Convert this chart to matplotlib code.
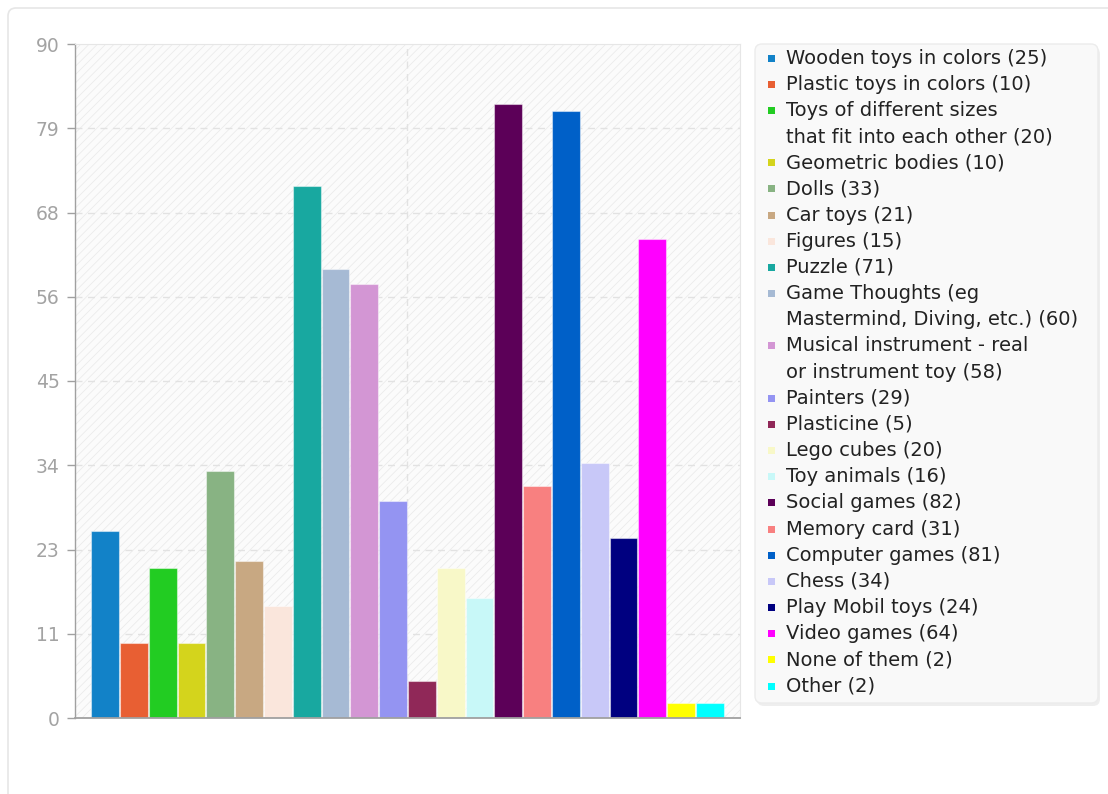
import matplotlib
matplotlib.use("Agg")
import matplotlib.pyplot as plt
from matplotlib.patches import Rectangle, FancyBboxPatch
import numpy as np

categories = [
    "Wooden toys in colors",
    "Plastic toys in colors",
    "Toys of different sizes\nthat fit into each other",
    "Geometric bodies",
    "Dolls",
    "Car toys",
    "Figures",
    "Puzzle",
    "Game Thoughts (eg\nMastermind, Diving, etc.)",
    "Musical instrument - real\nor instrument toy",
    "Painters",
    "Plasticine",
    "Lego cubes",
    "Toy animals",
    "Social games",
    "Memory card",
    "Computer games",
    "Chess",
    "Play Mobil toys",
    "Video games",
    "None of them",
    "Other",
]
values = [25, 10, 20, 10, 33, 21, 15, 71, 60, 58, 29, 5, 20, 16, 82, 31, 81, 34, 24, 64, 2, 2]
colors = [
    "#1282c8", "#e85f33", "#22cc22", "#d4d41c", "#88b383", "#c8a882",
    "#fae6dc", "#18a8a0", "#a6bad4", "#d396d4", "#9494f2", "#902858",
    "#f8f8c8", "#c8f8f8", "#5c0058", "#f88080", "#0060c8", "#c8c8f8",
    "#000080", "#ff00ff", "#ffff00", "#00ffff",
]
y_ticks = [0, 11.25, 22.5, 33.75, 45, 56.25, 67.5, 78.75, 90]
y_tick_labels = ["0", "11", "23", "34", "45", "56", "68", "79", "90"]

W, H = 1108, 794
fig = plt.figure(figsize=(W / 100, H / 100), dpi=100)
fig.patch.set_facecolor("white")

# outer card (pixel overlay)
bg = fig.add_axes([0, 0, 1, 1], zorder=0)
bg.set_xlim(0, W)
bg.set_ylim(H, 0)
bg.axis("off")
bg.add_patch(FancyBboxPatch((8, 8), 1130, 820, boxstyle="round,pad=0,rounding_size=8",
                            facecolor="white", edgecolor="#e6e6e6", linewidth=1.2))

# main axes
L, R, T, B = 75, 740, 44, 718
ax = fig.add_axes([L / W, 1 - B / H, (R - L) / W, (B - T) / H], zorder=1)
ax.set_facecolor("#fbfbfb")
plt.rcParams["hatch.linewidth"] = 0.6
ax.add_patch(Rectangle((0, 0), 1, 1, transform=ax.transAxes, facecolor="#fbfbfb",
                       edgecolor="#ebebeb", hatch="////", linewidth=0, zorder=0))

x = np.arange(len(values))
ax.bar(x, values, width=0.965, color=colors, edgecolor=(1, 1, 1, 0.45),
       linewidth=0.8, zorder=3)

n = len(values)
pad = 0.545
ax.set_xlim(-0.5 - pad, n - 0.5 + pad)
ax.set_ylim(0, 90)
ax.set_yticks(y_ticks)
ax.set_yticklabels(y_tick_labels)
ax.set_xticks([])
ax.tick_params(axis="y", colors="#a0a0a0", labelsize=13.5, length=6, width=1, pad=5,
               labelcolor="#a3a3a3")
for yt in y_ticks[1:-1]:
    ax.axhline(yt, color="#e2e2e2", linestyle=(0, (5, 4)), linewidth=1, zorder=1)
ax.axvline((n - 1) / 2, color="#e2e2e2", linestyle=(0, (5, 4)), linewidth=1, zorder=1)
ax.spines["left"].set_color("#a0a0a0")
ax.spines["bottom"].set_color("#a0a0a0")
ax.spines["left"].set_linewidth(1)
ax.spines["bottom"].set_linewidth(1.3)
ax.spines["top"].set_color("#e6e6e6")
ax.spines["right"].set_color("#e6e6e6")
for s in ["left", "bottom", "top", "right"]:
    ax.spines[s].set_zorder(4)

# legend (pixel overlay)
lg = fig.add_axes([0, 0, 1, 1], zorder=2)
lg.set_xlim(0, W)
lg.set_ylim(H, 0)
lg.axis("off")
lg.add_patch(FancyBboxPatch((757, 47), 343, 659, boxstyle="round,pad=0,rounding_size=7",
                            facecolor="#e4e4e4", edgecolor="none", alpha=0.6))
lg.add_patch(FancyBboxPatch((755, 44), 343, 659, boxstyle="round,pad=0,rounding_size=7",
                            facecolor="#f9f9f9", edgecolor="#ececec", linewidth=1))
line_h = 26.17
row = 0
for cat, v, c in zip(categories, values, colors):
    y0 = 58 + row * line_h
    lg.add_patch(Rectangle((768, y0 - 3.5), 7, 7, facecolor=c, edgecolor="none"))
    lines = (cat + f" ({v})").split("\n")
    for i, ln in enumerate(lines):
        lg.text(786, y0 + i * line_h, ln, fontsize=14, color="#222222", va="center",
                ha="left", family="DejaVu Sans")
    row += len(lines)

fig.savefig("out.png", dpi=100)
